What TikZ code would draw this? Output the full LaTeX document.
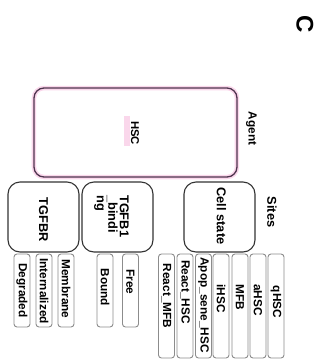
\documentclass[tikz,border=0pt]{standalone}
\usepackage{fontspec}
\setmainfont{Liberation Sans}
\definecolor{hscborder}{RGB}{78,52,78}
\definecolor{hscglow}{RGB}{250,215,235}
\begin{document}
\begin{tikzpicture}[x=1pt,y=-1pt,
  every node/.style={font=\bfseries, inner sep=0pt},
  rot/.style={rotate=-90},
  bigbox/.style={draw=black!80, line width=1.1pt, rounded corners=12pt, rotate=-90,
     minimum width=70pt, minimum height=71pt},
  smallbox/.style={draw=black!45, line width=0.9pt, rounded corners=3pt, rotate=-90,
     minimum height=16pt},
  lbl/.style={rotate=-90, font=\fontsize{11.8}{12}\selectfont\bfseries},
  blbl/.style={rotate=-90, font=\fontsize{12.8}{11.5}\selectfont\bfseries},
  shortbox/.style={smallbox, minimum width=73pt},
  longbox/.style={smallbox, minimum width=104pt}]
\useasboundingbox (0,0) rectangle (326,360);
% panel letter
\node[rot, font=\fontsize{24}{24}\selectfont\bfseries] (letter) at (305,24) {C};
% agent
\draw[line width=4.5pt, draw=hscglow, rounded corners=10pt] (34,88) rectangle (237,177);
\node[draw=hscborder, line width=1.3pt, rounded corners=10pt, rotate=-90,
  minimum width=89pt, minimum height=203pt] (hsc) at (135.5,132.5) {};
\fill[hscglow] (124,116) rectangle (130,146);
\node[lbl, font=\fontsize{11.3}{11}\selectfont\bfseries] (hsct) at (135,133) {HSC};
\node[lbl] (agent) at (251.5,128.5) {Agent};
% sites
\node[blbl] (sites) at (272,212) {Sites};
\node[bigbox] (tgfbr) at (43.5,217) {};
\node[blbl] (tgfbrt) at (43.5,219.5) {TGFBR};
\node[bigbox] (tgfb1) at (117.5,217) {};
\node[blbl, anchor=west, align=left] (tgfb1t) at (111.5,195) {TGFB1\\\_bindi\\ng};
\node[bigbox] (cell) at (219.5,217) {};
\node[blbl] (cellt) at (221.5,216) {Cell state};
% TGFBR states
\node[shortbox] (degraded) at (22,290.5) {};
\node[lbl] at (22,290.5) {Degraded};
\node[shortbox] (intern) at (44,290.5) {};
\node[lbl] at (44,291) {Internalized};
\node[shortbox] (membrane) at (66,290.5) {};
\node[lbl] at (66,289) {Membrane};
% TGFB1 binding states
\node[shortbox] (bound) at (105,290.5) {};
\node[lbl] at (105,287.5) {Bound};
\node[shortbox] (free) at (130.5,290.5) {};
\node[lbl] at (130.5,282) {Free};
% cell state states
\node[longbox] (reactmfb) at (166.5,306) {};
\node[lbl] at (166.5,296) {React\_MFB};
\node[longbox] (reacthsc) at (185,306) {};
\node[lbl] at (185,292) {React\_HSC};
\node[longbox] (apop) at (203.5,306) {};
\node[lbl] at (203.5,305) {Apop\_sene\_HSC};
\node[longbox] (ihsc) at (221,306) {};
\node[lbl] at (221,298.5) {iHSC};
\node[longbox] (mfb) at (240,306) {};
\node[lbl] at (240,297.5) {MFB};
\node[longbox] (ahsc) at (258,306) {};
\node[lbl] at (258,300) {aHSC};
\node[longbox] (qhsc) at (276,306) {};
\node[lbl] at (276,302) {qHSC};
\end{tikzpicture}
\end{document}
